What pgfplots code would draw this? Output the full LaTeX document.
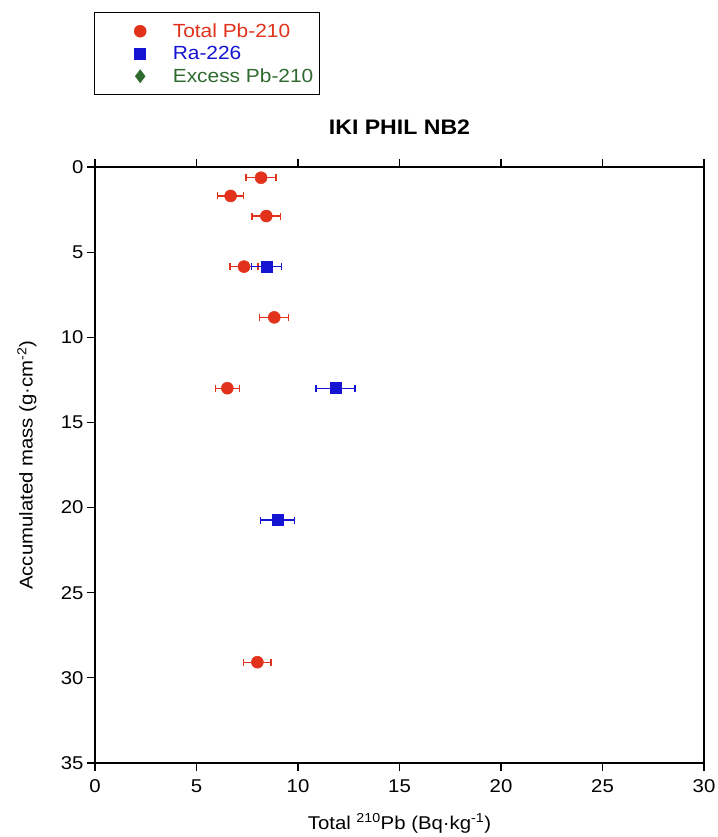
\documentclass[border=0pt]{standalone}
\usepackage{pgfplots}
\usepackage{pgfplotstable}
\pgfplotsset{compat=1.18}
\usepackage{fontspec}
\setmainfont[FakeStretch=1.1]{Liberation Sans}
\definecolor{pbred}{HTML}{E2321C}
\definecolor{rablue}{HTML}{1414D2}
\definecolor{exgreen}{HTML}{2F6A2F}
\pgfplotstableread{
x y ex
8.18 0.63 0.74
6.68 1.70 0.63
8.44 2.88 0.71
7.34 5.85 0.69
8.83 8.83 0.71
6.52 12.99 0.58
8.00 29.08 0.67
}\totalpb
\pgfplotstableread{
x y ex
8.44 5.85 0.75
11.85 12.99 0.96
9.00 20.73 0.84
}\ra
\begin{document}
\begin{tikzpicture}
\begin{axis}[
  scale only axis, width=609pt, height=596pt,
  at={(0pt,0pt)}, anchor=south west,
  y coord trafo/.code={\pgfmathparse{-(#1)}},
  y coord inv trafo/.code={\pgfmathparse{-(#1)}},
  xmin=0, xmax=30, ymin=35, ymax=0,
  xtick={0,5,...,30}, ytick={0,5,10,15,20,25,30,35},
  yticklabels={0,5,10,15,20,25,30,35},
  tick align=outside, major tick length=8pt, minor tick num=0,
  xtick pos=both, xticklabel pos=bottom, ytick pos=left,
  axis line style={line width=1.2pt, black},
  every tick/.style={line width=1.2pt, black},
  /pgf/number format/assume math mode=true,
  tick label style={font=\fontsize{18.5}{20}\selectfont},
  xticklabel style={yshift=-5pt},
  label style={font=\fontsize{18.5}{20}\selectfont},
  xlabel={Total \textsuperscript{210}Pb (Bq·kg\textsuperscript{-1})},
  xlabel style={at={(axis description cs:0.5,0)}, anchor=base, yshift=-66pt},
  ylabel={Accumulated mass (g·cm\textsuperscript{-2})},
  ylabel style={at={(axis description cs:-0.1117,0.5)}, anchor=center},
  title={IKI PHIL NB2},
  title style={at={(axis description cs:0.5,1)}, anchor=base, yshift=26pt, font=\bfseries\fontsize{21}{24}\selectfont},
  legend style={at={(axis description cs:-0.0016,1.2601)}, anchor=north west,
    draw=black, line width=1.2pt, font=\fontsize{19}{21}\selectfont,
    inner xsep=0pt, inner ysep=9pt, row sep=3.5pt},
  legend cell align=left,
  legend image code/.code={\path (-45pt,0pt) (30pt,0pt); \draw[#1] plot coordinates {(0pt,0pt)};},
]
\addplot[only marks, mark=*, mark size=6pt, color=pbred, line width=1.2pt,
  mark options={solid, line width=0.5pt},
  error bars/.cd, x dir=both, x explicit,
  error mark options={rotate=90, mark size=3.5pt, line width=1.2pt, pbred},
  error bar style={line width=1.2pt, pbred}]
  table[x=x, y=y, x error=ex]{\totalpb};
\addlegendentry[text=pbred]{Total Pb-210}
\addplot[only marks, mark=square*, mark size=5.5pt, color=rablue, line width=1.2pt,
  mark options={solid, line width=0.5pt},
  error bars/.cd, x dir=both, x explicit,
  error mark options={rotate=90, mark size=3.5pt, line width=1.2pt, rablue},
  error bar style={line width=1.2pt, rablue}]
  table[x=x, y=y, x error=ex]{\ra};
\addlegendentry[text=rablue]{Ra-226}
\addlegendimage{only marks, mark=diamond*, mark size=6.5pt, color=exgreen, mark options={line width=0.5pt}}
\addlegendentry[text=exgreen]{Excess Pb-210\hspace*{4pt}}
\end{axis}
\pgfresetboundingbox
\path (-95pt,-74pt) rectangle (622pt,763pt);
\end{tikzpicture}
\end{document}
